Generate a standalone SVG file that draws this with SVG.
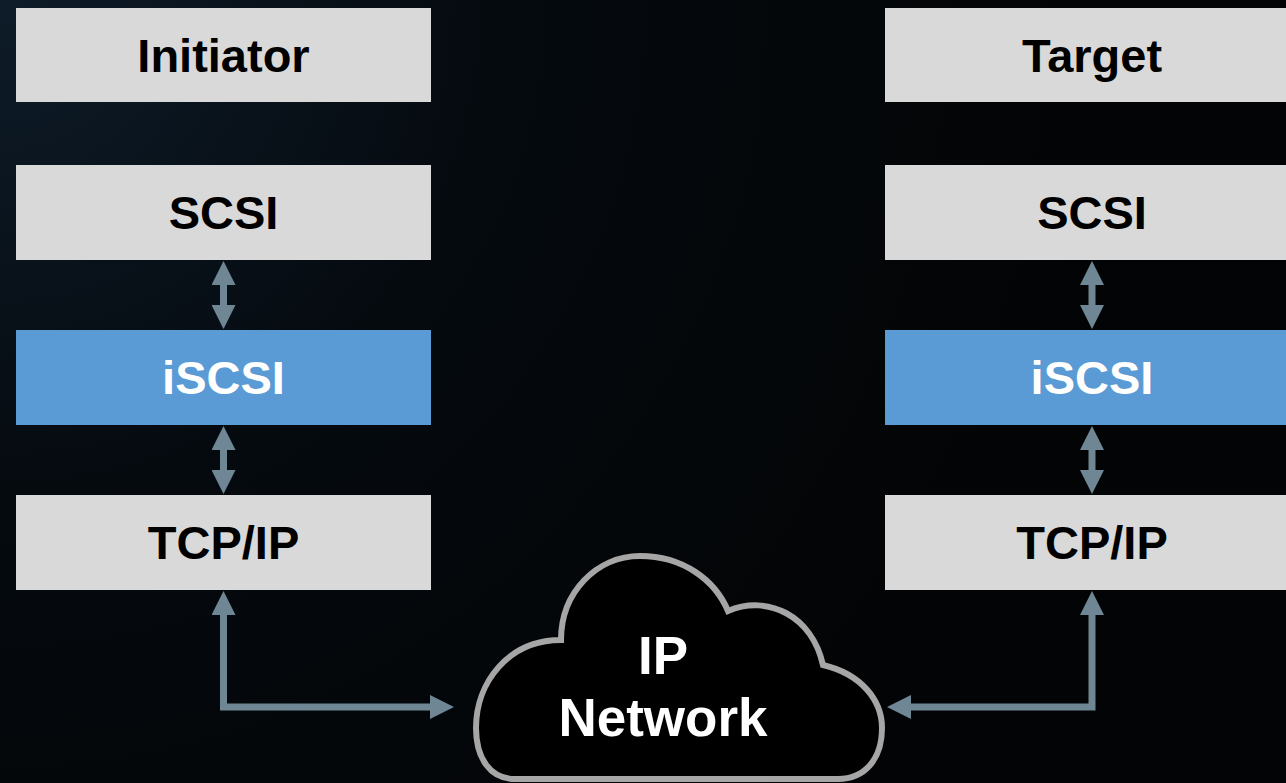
<svg xmlns="http://www.w3.org/2000/svg" width="1286" height="783" viewBox="0 0 1286 783">
  <defs>
    <radialGradient id="bg" cx="0" cy="0" r="1100" gradientUnits="userSpaceOnUse">
      <stop offset="0" stop-color="#0e1c29"/>
      <stop offset="0.45" stop-color="#050a0f"/>
      <stop offset="1" stop-color="#030405"/>
    </radialGradient>
    <marker id="head" markerUnits="userSpaceOnUse" markerWidth="24" markerHeight="24" refX="1" refY="12" orient="auto-start-reverse" viewBox="0 0 24 24">
      <path d="M0,0 L24,12 L0,24 Z" fill="#6f8694"/>
    </marker>
    <style>
      .gray { fill: #d9d9d9; }
      .blue { fill: #5b9bd5; }
      .lbl { font-family: "Liberation Sans", Arial, sans-serif; font-weight: bold; font-size: 47px; text-anchor: middle; }
      .big { font-size: 53px; }
      .dark { fill: #000000; }
      .light { fill: #ffffff; }
      .conn { fill: none; stroke: #6f8694; stroke-width: 7; stroke-linejoin: miter; marker-start: url(#head); marker-end: url(#head); }
      .cloud { fill: #000000; stroke: #a6a6a6; stroke-width: 6; }
    </style>
  </defs>
  <rect x="0" y="0" width="1286" height="783" fill="url(#bg)"/>

  <g id="initiator">
    <rect class="gray" x="16" y="8" width="415" height="94"/>
    <text class="lbl dark" x="223.5" y="72">Initiator</text>
  </g>
  <g id="scsi-left">
    <rect class="gray" x="16" y="165" width="415" height="95"/>
    <text class="lbl dark" x="223.5" y="229">SCSI</text>
  </g>
  <g id="iscsi-left">
    <rect class="blue" x="16" y="330" width="415" height="95"/>
    <text class="lbl light" x="223.5" y="394">iSCSI</text>
  </g>
  <g id="tcpip-left">
    <rect class="gray" x="16" y="495" width="415" height="95"/>
    <text class="lbl dark" x="223.5" y="559">TCP/IP</text>
  </g>

  <g id="target">
    <rect class="gray" x="885" y="8" width="401" height="94"/>
    <text class="lbl dark" x="1092" y="72">Target</text>
  </g>
  <g id="scsi-right">
    <rect class="gray" x="885" y="165" width="401" height="95"/>
    <text class="lbl dark" x="1092" y="229">SCSI</text>
  </g>
  <g id="iscsi-right">
    <rect class="blue" x="885" y="330" width="401" height="95"/>
    <text class="lbl light" x="1092" y="394">iSCSI</text>
  </g>
  <g id="tcpip-right">
    <rect class="gray" x="885" y="495" width="401" height="95"/>
    <text class="lbl dark" x="1092" y="559">TCP/IP</text>
  </g>

  <g id="ip-network">
    <path class="cloud" d="M 515 779 C 490 779 476 758 476 728 C 476 683 508 640 561 640 C 561 592 597 556 640 556 C 683 556 715 580 728 611 C 768 594 812 616 823 665 C 861 674 882 700 882 728 C 882 760 864 779 838 779 Z"/>
    <text class="lbl light big" x="663" y="674">IP</text>
    <text class="lbl light big" x="663" y="736">Network</text>
  </g>

  <g id="connectors">
    <path class="conn" d="M 223.5 284 L 223.5 306"/>
    <path class="conn" d="M 223.5 449 L 223.5 471"/>
    <path class="conn" d="M 1092 284 L 1092 306"/>
    <path class="conn" d="M 1092 449 L 1092 471"/>
    <path class="conn" d="M 223.5 614 L 223.5 707 L 431 707"/>
    <path class="conn" d="M 1092 614 L 1092 707 L 910 707"/>
  </g>
</svg>
